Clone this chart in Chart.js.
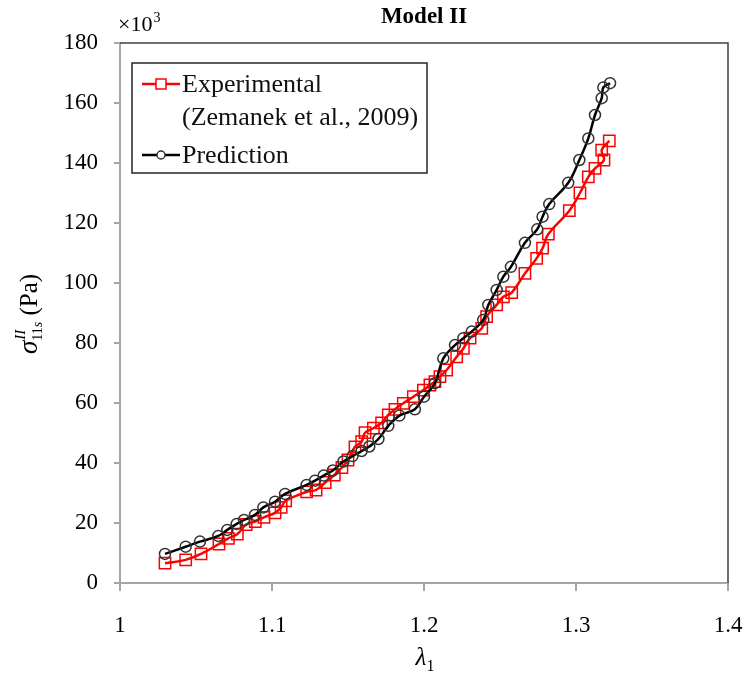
<!DOCTYPE html>
<html>
<head>
<meta charset="utf-8">
<script src="https://cdn.jsdelivr.net/npm/chart.js@4/dist/chart.umd.min.js"></script>
<style>
  html, body { margin: 0; padding: 0; background: #fff; }
  #wrap { width: 748px; height: 678px; }
</style>
</head>
<body>
<div id="wrap"><canvas id="c" width="748" height="678"></canvas></div>
<script>
// Stretch ratio λ1 and stress σ (in units of 10^3 Pa)
const expLambda = [1.0296, 1.0432, 1.0533, 1.0651, 1.0713, 1.0772, 1.0830, 1.0890, 1.0947, 1.1020,
  1.1060, 1.1090, 1.1228, 1.1290, 1.1350, 1.1410, 1.1460, 1.1500, 1.1546, 1.1590, 1.1612, 1.1667,
  1.1721, 1.1765, 1.1809, 1.1864, 1.1930, 1.1996, 1.2039, 1.2072, 1.2105, 1.2149, 1.2215, 1.2259,
  1.2303, 1.2380, 1.2412, 1.2478, 1.2522, 1.2577, 1.2664, 1.2741, 1.2780, 1.2818, 1.2956, 1.3026,
  1.3081, 1.3125, 1.3184, 1.3169, 1.3219];
const expStress = [6.6, 7.7, 9.7, 13.0, 14.9, 16.3, 19.5, 20.5, 21.9, 23.4,
  25.2, 27.4, 30.4, 31.0, 33.5, 36.0, 38.5, 41.0, 45.4, 47.1, 50.1, 51.6,
  53.4, 56.0, 57.9, 59.9, 62.1, 64.3, 66.0, 67.1, 68.8, 71.0, 75.4, 78.2,
  81.6, 84.9, 88.8, 92.7, 95.4, 96.8, 103.2, 108.2, 111.6, 116.3, 124.1, 130.0,
  135.4, 138.2, 141.0, 144.3, 147.4];

const predLambda = [1.0296, 1.0432, 1.0526, 1.0647, 1.0706, 1.0768, 1.0816, 1.0888, 1.0943, 1.1020,
  1.1086, 1.1228, 1.1283, 1.1340, 1.1400, 1.1470, 1.1530, 1.1590, 1.1640, 1.1700, 1.1765, 1.1838,
  1.1940, 1.2000, 1.2072, 1.2127, 1.2204, 1.2259, 1.2314, 1.2390, 1.2423, 1.2478, 1.2522, 1.2572,
  1.2664, 1.2745, 1.2780, 1.2824, 1.2949, 1.3022, 1.3081, 1.3125, 1.3169, 1.3180, 1.3224];
const predStress = [9.7, 12.1, 13.8, 15.7, 17.7, 19.7, 21.0, 22.7, 25.2, 27.1,
  29.7, 32.7, 34.1, 35.8, 37.5, 40.5, 42.3, 44.0, 45.5, 48.0, 52.4, 55.8,
  57.9, 62.1, 66.6, 74.9, 79.3, 81.6, 83.8, 87.7, 92.7, 97.7, 102.1, 105.4,
  113.4, 117.9, 122.1, 126.3, 133.4, 141.0, 148.2, 156.0, 161.6, 165.2, 166.6];

const xTicks = [1, 1.1, 1.2, 1.3, 1.4];
const yTicks = [0, 20, 40, 60, 80, 100, 120, 140, 160, 180];

const chartTitle = 'Model II';
const scaleNote = ['\u00d710', '3'];
const expLabel = ['Experimental', '(Zemanek et al., 2009)'];
const predLabel = 'Prediction';

const SERIF = '"Liberation Serif", "Times New Roman", serif';
const AXIS_GRAY = '#a6a6a6';
const FRAME_DARK = '#404040';

function toPoints(xs, ys) { return xs.map((x, i) => ({ x: x, y: ys[i] })); }

// Frame, title, axis titles and legend drawn on the canvas
const decorations = {
  id: 'decorations',
  afterDraw(chart) {
    const ctx = chart.ctx;
    const a = chart.chartArea;
    ctx.save();

    // top and right edges of the plot frame
    ctx.strokeStyle = FRAME_DARK;
    ctx.lineWidth = 1.5;
    ctx.beginPath();
    ctx.moveTo(a.left, a.top);
    ctx.lineTo(a.right, a.top);
    ctx.lineTo(a.right, a.bottom);
    ctx.stroke();

    ctx.fillStyle = '#000';
    ctx.textBaseline = 'alphabetic';

    // chart title
    ctx.font = 'bold 23px ' + SERIF;
    ctx.textAlign = 'center';
    ctx.fillText(chartTitle, (a.left + a.right) / 2, 23);

    // ×10^3 multiplier
    ctx.textAlign = 'left';
    ctx.font = '22px ' + SERIF;
    ctx.fillText(scaleNote[0], a.left - 2, 31);
    const w10 = ctx.measureText(scaleNote[0]).width;
    ctx.font = '14px ' + SERIF;
    ctx.fillText(scaleNote[1], a.left - 2 + w10 + 1, 22);

    // x-axis title λ1
    const xc = (a.left + a.right) / 2;
    ctx.font = 'italic 25px ' + SERIF;
    const wl = ctx.measureText('\u03bb').width;
    ctx.fillText('\u03bb', xc - wl / 2 - 3, 665);
    ctx.font = '16px ' + SERIF;
    ctx.fillText('1', xc + wl / 2 - 3, 671);

    // y-axis title σ^II_11s (Pa), rotated
    ctx.save();
    ctx.translate(30, 314);
    ctx.rotate(-Math.PI / 2);
    ctx.font = 'italic 27px ' + SERIF;
    const wSig = ctx.measureText('\u03c3').width;
    ctx.font = 'italic 15px ' + SERIF;
    const wSup = ctx.measureText('II').width;
    ctx.font = '14px ' + SERIF;
    const wSub = ctx.measureText('11').width;
    ctx.font = 'italic 14px ' + SERIF;
    const wS = ctx.measureText('s').width;
    ctx.font = '25px ' + SERIF;
    const wPa = ctx.measureText(' (Pa)').width;
    const stackW = Math.max(wSup, wSub + wS);
    const total = wSig + stackW + wPa;
    let x0 = -total / 2;
    const base = 7;
    ctx.textAlign = 'left';
    ctx.font = 'italic 27px ' + SERIF;
    ctx.fillText('\u03c3', x0, base);
    x0 += wSig;
    ctx.font = 'italic 15px ' + SERIF;
    ctx.fillText('II', x0 + 1, base - 12);
    ctx.font = '14px ' + SERIF;
    ctx.fillText('11', x0, base + 5);
    ctx.font = 'italic 14px ' + SERIF;
    ctx.fillText('s', x0 + wSub, base + 5);
    x0 += stackW;
    ctx.font = '25px ' + SERIF;
    ctx.fillText(' (Pa)', x0, base);
    ctx.restore();

    // legend box
    const lx = a.left + 12, ly = a.top + 20, lw = 295, lh = 110;
    ctx.fillStyle = '#fff';
    ctx.fillRect(lx, ly, lw, lh);
    ctx.strokeStyle = '#262626';
    ctx.lineWidth = 1.5;
    ctx.strokeRect(lx, ly, lw, lh);

    const sx0 = lx + 10, sx1 = lx + 48, smid = (sx0 + sx1) / 2;
    // experimental sample
    const y1 = ly + 21;
    ctx.strokeStyle = 'rgb(255,0,0)';
    ctx.lineWidth = 2.5;
    ctx.beginPath(); ctx.moveTo(sx0, y1); ctx.lineTo(sx1, y1); ctx.stroke();
    ctx.lineWidth = 1.5;
    ctx.fillStyle = '#fff';
    ctx.fillRect(smid - 5, y1 - 5, 10, 10);
    ctx.strokeRect(smid - 5, y1 - 5, 10, 10);
    // prediction sample
    const y2 = ly + 92;
    ctx.strokeStyle = '#000';
    ctx.lineWidth = 2.5;
    ctx.beginPath(); ctx.moveTo(sx0, y2); ctx.lineTo(sx1, y2); ctx.stroke();
    ctx.lineWidth = 1.5;
    ctx.strokeStyle = '#333';
    ctx.beginPath(); ctx.arc(smid, y2, 4, 0, Math.PI * 2); ctx.fill(); ctx.stroke();

    ctx.fillStyle = '#111';
    ctx.font = '26px ' + SERIF;
    ctx.textBaseline = 'middle';
    ctx.fillText(expLabel[0], sx1 + 2, y1 + 1);
    ctx.fillText(expLabel[1], sx1 + 2, y1 + 34);
    ctx.fillText(predLabel, sx1 + 2, y2 + 1);

    ctx.restore();
  }
};

const tickFont = { family: SERIF, size: 23 };

new Chart(document.getElementById('c'), {
  type: 'line',
  data: {
    datasets: [
      {
        label: expLabel.join(' '),
        data: toPoints(expLambda, expStress),
        borderColor: 'rgb(255,0,0)',
        borderWidth: 2.5,
        tension: 0.4,
        pointStyle: 'rect',
        pointRadius: 8,
        pointBorderWidth: 1.5,
        pointBorderColor: 'rgb(255,0,0)',
        pointBackgroundColor: 'rgba(0,0,0,0)',
        order: 1
      },
      {
        label: predLabel,
        data: toPoints(predLambda, predStress),
        borderColor: '#000',
        borderWidth: 2.5,
        tension: 0.4,
        pointStyle: 'circle',
        pointRadius: 5.5,
        pointBorderWidth: 1.5,
        pointBorderColor: '#333',
        pointBackgroundColor: 'rgba(0,0,0,0)',
        order: 0
      }
    ]
  },
  options: {
    responsive: false,
    animation: false,
    devicePixelRatio: 1,
    layout: { padding: { top: 43, right: 20, left: 0, bottom: 0 } },
    plugins: { legend: { display: false }, tooltip: { enabled: false }, title: { display: false } },
    scales: {
      x: {
        type: 'linear',
        min: 1, max: 1.4,
        afterBuildTicks: s => { s.ticks = xTicks.map(v => ({ value: v })); },
        afterFit: s => { s.height = 95; s.paddingLeft = 0; s.paddingRight = 0; },
        ticks: { font: tickFont, color: '#000', padding: 21, maxRotation: 0, callback: v => String(v) },
        grid: { display: true, drawOnChartArea: false, drawTicks: true, tickLength: 8, color: AXIS_GRAY, lineWidth: 2 },
        border: { display: true, color: AXIS_GRAY, width: 2 }
      },
      y: {
        type: 'linear',
        min: 0, max: 180,
        afterBuildTicks: s => { s.ticks = yTicks.map(v => ({ value: v })); },
        afterFit: s => { s.width = 120; s.paddingTop = 0; s.paddingBottom = 0; },
        ticks: { font: tickFont, color: '#000', padding: 16, callback: v => String(v) },
        grid: { display: true, drawOnChartArea: false, drawTicks: true, tickLength: 6, color: AXIS_GRAY, lineWidth: 2 },
        border: { display: true, color: AXIS_GRAY, width: 2 }
      }
    }
  },
  plugins: [decorations]
});
</script>
</body>
</html>
